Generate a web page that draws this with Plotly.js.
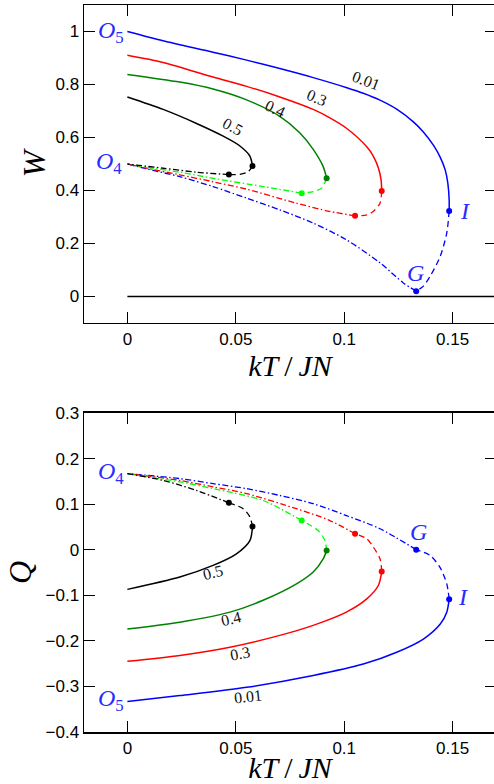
<!DOCTYPE html>
<html>
<head>
<meta charset="utf-8">
<script src="https://cdn.plot.ly/plotly-3.0.1.min.js"></script>
<style>
html,body{margin:0;padding:0;overflow:hidden;background:#fff;}
#plot{width:500px;height:784px;}
</style>
</head>
<body>
<div id="plot"></div>
<script>
// ---------- Top panel: W vs kT/JN ----------
// parameter 0.01 (blue)
const W001_solid_x = [0, 0.0164, 0.0395, 0.055, 0.0703, 0.0857, 0.1012, 0.1088, 0.1165, 0.1242, 0.1319, 0.1365, 0.1412, 0.1443, 0.1466, 0.1478, 0.1484, 0.1484];
const W001_solid_y = [1.0, 0.965, 0.922, 0.892, 0.860, 0.826, 0.788, 0.767, 0.741, 0.707, 0.659, 0.621, 0.570, 0.525, 0.477, 0.427, 0.365, 0.323];
const W001_dash_x  = [0.1484, 0.1473, 0.1443, 0.1396, 0.1365, 0.1332];
const W001_dash_y  = [0.323, 0.24, 0.152, 0.076, 0.039, 0.02];
const W001_dd_x    = [0.1332, 0.1273, 0.1165, 0.101, 0.0857, 0.0703, 0.055, 0.0395, 0.0242, 0.0088, 0];
const W001_dd_y    = [0.02, 0.051, 0.127, 0.214, 0.277, 0.327, 0.371, 0.415, 0.452, 0.482, 0.5];
// parameter 0.3 (red)
const W03_solid_x = [0, 0.0164, 0.0395, 0.055, 0.0703, 0.0857, 0.0934, 0.1012, 0.1104, 0.1134, 0.1158, 0.117, 0.1173];
const W03_solid_y = [0.91, 0.883, 0.828, 0.793, 0.753, 0.706, 0.674, 0.634, 0.565, 0.530, 0.484, 0.440, 0.398];
const W03_dash_x  = [0.1173, 0.1165, 0.1134, 0.1104, 0.105];
const W03_dash_y  = [0.398, 0.352, 0.321, 0.308, 0.3045];
const W03_dd_x    = [0.105, 0.0934, 0.078, 0.055, 0.0395, 0.0242, 0.0088, 0];
const W03_dd_y    = [0.3045, 0.321, 0.352, 0.405, 0.433, 0.459, 0.484, 0.5];
// parameter 0.4 (green)
const W04_solid_x = [0, 0.0242, 0.0395, 0.055, 0.0703, 0.0796, 0.0857, 0.0903, 0.0919];
const W04_solid_y = [0.838, 0.809, 0.783, 0.742, 0.680, 0.617, 0.555, 0.49, 0.446];
const W04_dash_x  = [0.0919, 0.0896, 0.0857, 0.0804];
const W04_dash_y  = [0.446, 0.409, 0.396, 0.39];
const W04_dd_x    = [0.0804, 0.0626, 0.0395, 0.0242, 0.0088, 0];
const W04_dd_y    = [0.39, 0.415, 0.446, 0.469, 0.488, 0.5];
// parameter 0.5 (black)
const W05_solid_x = [0, 0.0165, 0.0319, 0.0442, 0.0519, 0.0565, 0.0577];
const W05_solid_y = [0.753, 0.706, 0.653, 0.605, 0.568, 0.530, 0.492];
const W05_dash_x  = [0.0577, 0.0557, 0.0519, 0.0468];
const W05_dash_y  = [0.492, 0.471, 0.461, 0.46];
const W05_dd_x    = [0.0468, 0.0319, 0.0165, 0];
const W05_dd_y    = [0.46, 0.469, 0.484, 0.5];
// trivial branch W = 0
const W0_x = [0, 0.17];
const W0_y = [0, 0];

// ---------- Bottom panel: Q vs kT/JN ----------
const Q001_solid_x = [0, 0.0242, 0.055, 0.0857, 0.1088, 0.1242, 0.1365, 0.1443, 0.1473, 0.1484];
const Q001_solid_y = [-0.333, -0.320, -0.302, -0.276, -0.251, -0.225, -0.196, -0.163, -0.137, -0.1085];
const Q001_dash_x  = [0.1484, 0.1473, 0.1443, 0.1396, 0.1332];
const Q001_dash_y  = [-0.1085, -0.075, -0.04, -0.0125, 0.0];
const Q001_dd_x    = [0.1332, 0.1165, 0.101, 0.0857, 0.0703, 0.055, 0.0395, 0.0242, 0];
const Q001_dd_y    = [0.0, 0.046, 0.075, 0.101, 0.119, 0.134, 0.145, 0.156, 0.167];

const Q03_solid_x = [0, 0.0242, 0.0473, 0.0703, 0.0857, 0.101, 0.1104, 0.1158, 0.1173];
const Q03_solid_y = [-0.245, -0.232, -0.214, -0.188, -0.166, -0.137, -0.108, -0.078, -0.0477];
const Q03_dash_x  = [0.1173, 0.1165, 0.1134, 0.1104, 0.105];
const Q03_dash_y  = [-0.0477, -0.02, 0.006, 0.024, 0.035];
const Q03_dd_x    = [0.105, 0.0934, 0.078, 0.055, 0.0395, 0.0242, 0.0088, 0];
const Q03_dd_y    = [0.035, 0.064, 0.090, 0.123, 0.138, 0.152, 0.162, 0.167];

const Q04_solid_x = [0, 0.0242, 0.0473, 0.0626, 0.078, 0.0857, 0.0903, 0.0919];
const Q04_solid_y = [-0.174, -0.159, -0.137, -0.111, -0.075, -0.049, -0.02, -0.002];
const Q04_dash_x  = [0.0919, 0.0911, 0.088, 0.0804];
const Q04_dash_y  = [-0.002, 0.020, 0.042, 0.064];
const Q04_dd_x    = [0.0804, 0.0626, 0.0395, 0.0242, 0.0088, 0];
const Q04_dd_y    = [0.064, 0.108, 0.134, 0.149, 0.16, 0.167];

const Q05_solid_x = [0, 0.0242, 0.0395, 0.0503, 0.0565, 0.0577];
const Q05_solid_y = [-0.087, -0.060, -0.0345, -0.009, 0.020, 0.051];
const Q05_dash_x  = [0.0577, 0.0565, 0.0534, 0.0468];
const Q05_dash_y  = [0.051, 0.072, 0.09, 0.103];
const Q05_dd_x    = [0.0468, 0.0319, 0.0165, 0];
const Q05_dd_y    = [0.103, 0.130, 0.152, 0.167];

// labels
const curveLabels = ['0.01', '0.3', '0.4', '0.5'];
const xTickVals = [0, 0.05, 0.1, 0.15];
const xTickText = ['0', '0.05', '0.1', '0.15'];

// ---------- build ----------
const BLUE = '#0000ff', RED = '#ff0000', DGREEN = '#008000', LIME = '#00ff00', BLACK = '#000000';
const DASH = '6px,4px';
const DASHDOT = '6px,2.5px,1.5px,2.5px';
const traces = [];
function line(x, y, color, dash, ax, w) {
  traces.push({x: x, y: y, type: 'scatter', mode: 'lines', xaxis: ax[0], yaxis: ax[1],
    line: {color: color, width: w || 1.5, dash: dash, shape: 'spline', smoothing: 0.8},
    hoverinfo: 'skip'});
}
function dot(x, y, color, ax) {
  traces.push({x: [x], y: [y], type: 'scatter', mode: 'markers', xaxis: ax[0], yaxis: ax[1],
    marker: {color: color, size: 6}, hoverinfo: 'skip'});
}
function family(sx, sy, dx, dy, ddx, ddy, cSolid, cLow, ax) {
  line(sx, sy, cSolid, 'solid', ax);
  line(dx, dy, cLow, DASH, ax, 1.3);
  line(ddx, ddy, cLow, DASHDOT, ax, 1.3);
  dot(sx[sx.length - 1], sy[sy.length - 1], cSolid, ax);
  dot(dx[dx.length - 1], dy[dy.length - 1], cLow, ax);
}
const A1 = ['x', 'y'], A2 = ['x2', 'y2'];
line(W0_x, W0_y, BLACK, 'solid', A1, 1.3);
family(W001_solid_x, W001_solid_y, W001_dash_x, W001_dash_y, W001_dd_x, W001_dd_y, BLUE, BLUE, A1);
family(W03_solid_x, W03_solid_y, W03_dash_x, W03_dash_y, W03_dd_x, W03_dd_y, RED, RED, A1);
family(W04_solid_x, W04_solid_y, W04_dash_x, W04_dash_y, W04_dd_x, W04_dd_y, DGREEN, LIME, A1);
family(W05_solid_x, W05_solid_y, W05_dash_x, W05_dash_y, W05_dd_x, W05_dd_y, BLACK, BLACK, A1);

family(Q001_solid_x, Q001_solid_y, Q001_dash_x, Q001_dash_y, Q001_dd_x, Q001_dd_y, BLUE, BLUE, A2);
family(Q03_solid_x, Q03_solid_y, Q03_dash_x, Q03_dash_y, Q03_dd_x, Q03_dd_y, RED, RED, A2);
family(Q04_solid_x, Q04_solid_y, Q04_dash_x, Q04_dash_y, Q04_dd_x, Q04_dd_y, DGREEN, LIME, A2);
family(Q05_solid_x, Q05_solid_y, Q05_dash_x, Q05_dash_y, Q05_dd_x, Q05_dd_y, BLACK, BLACK, A2);

const SERIF = 'Liberation Serif, DejaVu Serif, serif';
const SANS = 'Liberation Sans, Arial, sans-serif';
const LBLUE = '#2a2aff';
function ann(x, y, text, ax, opts) {
  return Object.assign({x: x, y: y, xref: ax[0], yref: ax[1], text: text, showarrow: false,
    font: {family: SERIF, size: 16, color: '#111'}, xanchor: 'center', yanchor: 'middle'}, opts || {});
}
const bigBlue = {family: SERIF, size: 24, color: LBLUE};
const annotations = [
  ann(-0.0005, 1.0, '<i>O</i><sub>5</sub>', A1, {font: bigBlue, xanchor: 'right'}),
  ann(-0.0015, 0.505, '<i>O</i><sub>4</sub>', A1, {font: bigBlue, xanchor: 'right'}),
  ann(0.1558, 0.321, '<i>I</i>', A1, {font: bigBlue}),
  ann(0.1327, 0.089, '<i>G</i>', A1, {font: bigBlue}),
  ann(0.110, 0.815, curveLabels[0], A1, {textangle: 21}),
  ann(0.0873, 0.752, curveLabels[1], A1, {textangle: 23}),
  ann(0.068, 0.708, curveLabels[2], A1, {textangle: 25}),
  ann(0.0485, 0.643, curveLabels[3], A1, {textangle: 28}),

  ann(-0.0005, 0.168, '<i>O</i><sub>4</sub>', A2, {font: bigBlue, xanchor: 'right'}),
  ann(-0.0005, -0.330, '<i>O</i><sub>5</sub>', A2, {font: bigBlue, xanchor: 'right'}),
  ann(0.1342, 0.0387, '<i>G</i>', A2, {font: bigBlue}),
  ann(0.155, -0.104, '<i>I</i>', A2, {font: bigBlue}),
  ann(0.0395, -0.051, curveLabels[3], A2, {textangle: -14}),
  ann(0.048, -0.150, curveLabels[2], A2, {textangle: -13}),
  ann(0.0519, -0.227, curveLabels[1], A2, {textangle: -10}),
  ann(0.0557, -0.322, curveLabels[0], A2, {textangle: -6})
];

const T = '\u2009';
const xTitle = '<i>kT</i>' + T + '/' + T + '<i>JN</i>';
function xAxis(anchor) {
  return {anchor: anchor, domain: [0, 1], range: [-0.02, 0.17], tickvals: xTickVals, ticktext: xTickText,
    ticks: 'inside', ticklen: 11, tickwidth: 1, tickcolor: '#000', showline: true, linecolor: '#000',
    linewidth: 1.5, mirror: 'ticks', showgrid: false, zeroline: false, automargin: false,
    tickfont: {family: SANS, size: 17, color: '#000'},
    title: {text: xTitle, font: {family: SERIF, size: 30, color: '#000'}, standoff: 3}};
}
function yAxis(anchor, domain, range, dtick, title, standoff) {
  return {anchor: anchor, domain: domain, range: range, dtick: dtick, tick0: 0,
    ticks: 'inside', ticklen: 11, tickwidth: 1, tickcolor: '#000', showline: true, linecolor: '#000',
    linewidth: 1.5, mirror: 'ticks', showgrid: false, zeroline: false, automargin: false,
    tickfont: {family: SANS, size: 17, color: '#000'},
    title: {text: title, font: {family: SERIF, size: 32, color: '#000'}, standoff: standoff}};
}
const layout = {
  width: 500, height: 784,
  margin: {l: 84, r: 4, t: 5, b: 52},
  paper_bgcolor: '#fff', plot_bgcolor: '#fff', showlegend: false,
  xaxis: xAxis('y'),
  yaxis: yAxis('x', [0.5626, 1], [-0.1, 1.1], 0.2, '<i>W</i>', 0),
  xaxis2: xAxis('y2'),
  yaxis2: yAxis('x2', [0, 0.4388], [-0.4, 0.3], 0.1, '<i>Q</i>', 4),
  annotations: annotations
};
Plotly.newPlot('plot', traces, layout, {staticPlot: true, displayModeBar: false});
</script>
</body>
</html>
